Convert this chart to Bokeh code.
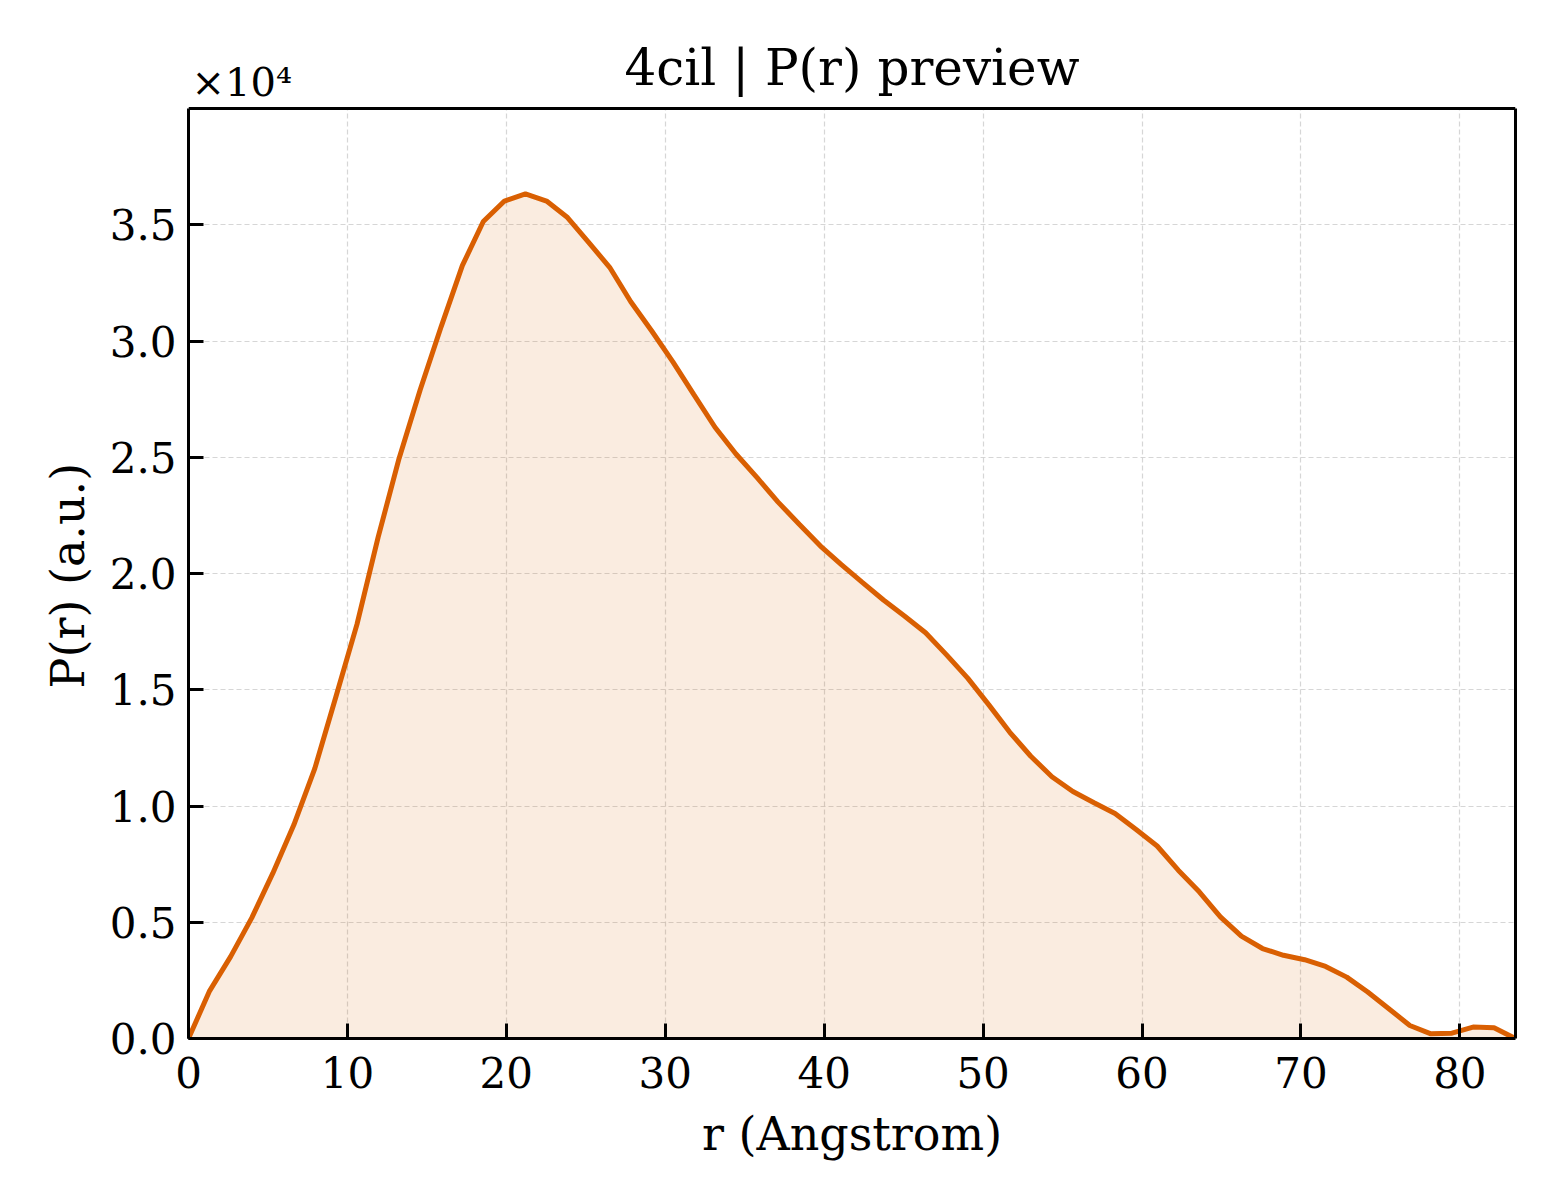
import numpy as np

from bokeh.plotting import figure
from bokeh.models import (Range1d, FixedTicker, CustomJSTickFormatter, Label,
                          LinearAxis, Span, Title)
from bokeh.embed import file_html
from bokeh.resources import INLINE


r_values = [0.00, 1.33, 2.65, 3.98, 5.30, 6.63, 7.95, 9.28, 10.60, 11.93,
            13.25, 14.58, 15.90, 17.23, 18.55, 19.88, 21.20, 22.53, 23.85, 25.18,
            26.50, 27.83, 29.15, 30.48, 31.80, 33.13, 34.45, 35.78, 37.10, 38.43,
            39.75, 41.08, 42.40, 43.73, 45.05, 46.38, 47.70, 49.03, 50.35, 51.68,
            53.00, 54.33, 55.65, 56.98, 58.30, 59.63, 60.95, 62.28, 63.60, 64.93,
            66.25, 67.58, 68.90, 70.23, 71.55, 72.88, 74.20, 75.53, 76.85, 78.18,
            79.50, 80.83, 82.15, 83.48]

pr_values = [0, 2050, 3520, 5190, 7100, 9190, 11620, 14710, 17810, 21550,
             24950, 27900, 30620, 33240, 35140, 36020, 36330, 36020, 35310, 34240,
             33170, 31690, 30430, 29100, 27690, 26290, 25140, 24120, 23070, 22120,
             21190, 20380, 19620, 18860, 18170, 17450, 16500, 15500, 14360, 13170,
             12140, 11260, 10620, 10140, 9680, 8990, 8280, 7240, 6310, 5230,
             4400, 3870, 3580, 3390, 3100, 2640, 2000, 1280, 560, 200,
             230, 490, 460, 0]

x_ticks = [0, 10, 20, 30, 40, 50, 60, 70, 80]
y_ticks = [0, 5000, 10000, 15000, 20000, 25000, 30000, 35000]

title_text = "4cil | P(r) preview"
scale_text = "×10⁴"
x_label = "r (Angstrom)"
y_label = "P(r) (a.u.)"

FONT = "DejaVu Serif"
ORANGE = "#d95f02"

X_MAX = 83.5
Y_MAX = 40000

# frame is stretched upward so the title and the scale note (drawn as labels)
# are not clipped; the visible box stops at Y_MAX
W, H = 1544, 1184
LEFT, RIGHT, TOP, BOTTOM = 188, 29, 20, 146
box_top_px = 108
frame_h = H - TOP - BOTTOM
y_end = Y_MAX * frame_h / (frame_h - (box_top_px - TOP))
per_px = y_end / frame_h

r = np.array(r_values)
pr = np.array(pr_values)

p = figure(width=W, height=H, output_backend="svg", toolbar_location=None,
           x_range=Range1d(0, X_MAX), y_range=Range1d(0, y_end),
           min_border_left=LEFT, min_border_right=RIGHT,
           min_border_top=TOP, min_border_bottom=BOTTOM)

p.varea(x=r, y1=np.zeros_like(pr), y2=pr, fill_color=ORANGE, fill_alpha=0.12)
p.line(r, pr, line_color=ORANGE, line_width=5)

# axes, matplotlib style ticks pointing in
p.xaxis.ticker = FixedTicker(ticks=x_ticks)
p.yaxis.ticker = FixedTicker(ticks=y_ticks)
p.yaxis.formatter = CustomJSTickFormatter(code="return (tick / 1e4).toFixed(1);")
p.yaxis.bounds = (0, Y_MAX)
p.xaxis.axis_label = x_label

for ax in p.xaxis + p.yaxis:
    ax.axis_label_text_font = FONT
    ax.axis_label_text_font_size = "46px"
    ax.axis_label_text_font_style = "normal"
    ax.axis_label_text_color = "black"
    ax.major_label_text_font = FONT
    ax.major_label_text_font_size = "42px"
    ax.major_label_text_color = "black"
    ax.axis_line_color = "black"
    ax.axis_line_width = 3
    ax.major_tick_line_color = "black"
    ax.major_tick_line_width = 3
    ax.major_tick_in = 15
    ax.major_tick_out = 0
    ax.minor_tick_line_color = None

p.xaxis.major_label_standoff = 18
p.xaxis.axis_label_standoff = 16
p.yaxis.major_label_standoff = 12

# y label as a side title, started from the bottom of the box
p.add_layout(Title(text=y_label, align="left", offset=350,
                   text_font=FONT, text_font_size="46px", text_font_style="normal",
                   text_color="black", standoff=24), "left")

# right and top edges of the box
right_edge = LinearAxis(ticker=FixedTicker(ticks=[]), bounds=(0, Y_MAX),
                        axis_line_color="black", axis_line_width=3,
                        major_tick_line_color=None, minor_tick_line_color=None,
                        major_label_text_font_size="0px")
p.add_layout(right_edge, "right")
p.add_layout(Span(location=Y_MAX, dimension="width", line_color="black", line_width=3))

p.outline_line_color = None

p.grid.grid_line_color = "#cccccc"
p.grid.grid_line_width = 1.2
p.grid.grid_line_dash = "5 3"
p.grid.grid_line_alpha = 0.8
p.xgrid.cross_bounds = (0, Y_MAX)

p.background_fill_color = "white"
p.border_fill_color = "white"

p.add_layout(Label(x=X_MAX / 2, y=Y_MAX + 41 * per_px, text=title_text, text_font=FONT,
                   text_font_size="50px", text_color="black", text_align="center",
                   text_baseline="alphabetic"))

p.add_layout(Label(x=0, y=Y_MAX + 27 * per_px, text=scale_text, text_font=FONT,
                   text_font_size="40px", text_color="black", text_align="left",
                   text_baseline="alphabetic", x_offset=3))

open("out.html", "w").write(file_html(p, INLINE))
